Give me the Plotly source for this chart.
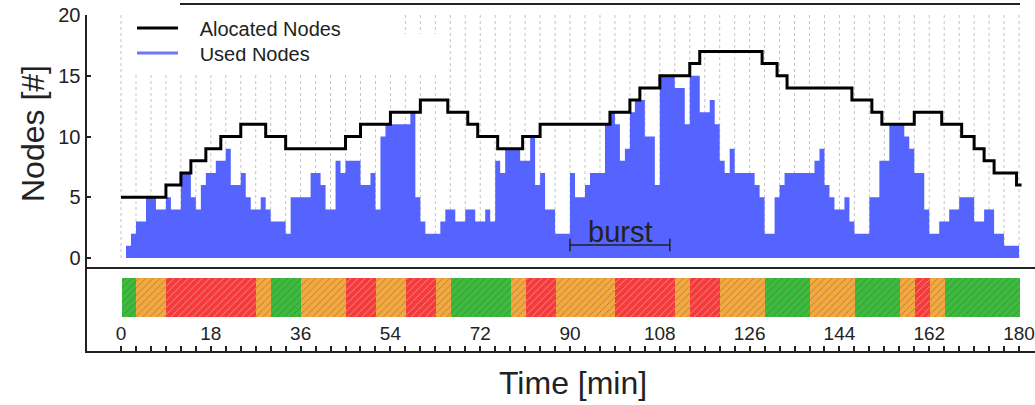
import plotly.graph_objects as go

# ---------------- data ----------------
# used nodes per minute (minute t covers [t, t+1))
used_nodes = [
    0, 1, 2, 3, 3, 5, 5, 4, 4, 5,        # 0-9
    4, 4, 7, 7, 5, 4, 6, 7, 7, 8,        # 10-19
    8, 9, 6, 6, 7, 5, 4, 4, 5, 4,        # 20-29
    3, 3, 3, 2, 5, 5, 5, 5, 7, 7,        # 30-39
    6, 4, 4, 8, 7, 8, 8, 8, 6, 6,        # 40-49
    7, 4, 10, 11, 11, 11, 11, 11, 12, 5, # 50-59
    3, 2, 2, 2, 3, 4, 4, 3, 3, 4,        # 60-69
    4, 3, 3, 4, 3, 8, 7, 9, 9, 9,        # 70-79
    8, 8, 10, 6, 7, 4, 4, 2, 2, 2,       # 80-89
    7, 5, 5, 6, 7, 7, 7, 11, 12, 11,     # 90-99
    8, 9, 12, 13, 13, 10, 10, 6, 15, 15, # 100-109
    15, 14, 14, 11, 15, 15, 12, 12, 13, 11,  # 110-119
    8, 7, 9, 7, 7, 7, 7, 6, 5, 2,        # 120-129
    2, 5, 6, 7, 7, 7, 7, 7, 7, 8,        # 130-139
    9, 6, 5, 4, 4, 5, 3, 2, 2, 2,        # 140-149
    5, 5, 8, 8, 11, 11, 11, 10, 9, 7,    # 150-159
    7, 4, 2, 2, 3, 3, 4, 4, 5, 5,        # 160-169
    5, 3, 3, 4, 4, 2, 2, 1, 1, 1,        # 170-179
]
used_minutes = list(range(0, len(used_nodes) + 1))

# allocated nodes: change times [min] and level from that time on
alloc_minutes = [0, 9, 12, 14, 17, 20, 24, 29, 33, 45, 48, 54, 60, 65.5, 69.5,
                 71.5, 75.5, 80.5, 84, 98, 102, 104, 108, 114, 116, 128.5,
                 131.5, 133.5, 146.5, 150.5, 152.5, 159, 164.5, 168.5, 171,
                 173, 175, 179.5, 180.5]
alloc_nodes = [5, 6, 7, 8, 9, 10, 11, 10, 9, 10, 11, 12, 13, 12, 11,
               10, 9, 10, 11, 12, 13, 14, 15, 16, 17, 16,
               15, 14, 13, 12, 11, 12, 11, 10, 9,
               8, 7, 6, 6]

# state band (bottom panel)
state_bounds = [0, 3, 9, 27, 30, 36, 45, 51, 57, 63, 66, 78, 81, 87, 99, 111,
                114, 120, 129, 138, 147, 156, 159, 162, 165, 180]
state_names = ["green", "orange", "red", "orange", "green", "orange", "red",
               "orange", "red", "orange", "green", "orange", "red", "orange",
               "red", "orange", "red", "orange", "green", "orange", "green",
               "orange", "red", "orange", "green"]
state_colors = {"green": "#3dbb3d", "orange": "#f4a840", "red": "#f43b3b"}

grid_minutes = list(range(0, 181, 3))
grid_top = 20
x_tick_vals = list(range(0, 181, 3))
x_tick_text = [str(v) if v % 18 == 0 else "" for v in x_tick_vals]
y_tick_vals = [0, 5, 10, 15, 20]

burst_span = [90, 110]
burst_level = 1.07

# ---------------- figure ----------------
W, H = 1035, 405
def px_x(p):
    return p / W
def px_y(p):
    return 1 - p / H

FONT = "Liberation Sans, Arial, sans-serif"
INK = "#222222"
BLUE = "#5564ff"
NB = "\u00a0"

fig = go.Figure()

# dotted vertical grid
gx, gy = [], []
for g in grid_minutes:
    gx += [g, g, None]
    gy += [0, grid_top, None]
fig.add_trace(go.Scatter(x=gx, y=gy, mode="lines", showlegend=False,
                         hoverinfo="skip",
                         line=dict(color="#c4c4c4", width=1, dash="dot"),
                         xaxis="x", yaxis="y"))

# used nodes (filled step)
fig.add_trace(go.Scatter(x=used_minutes, y=used_nodes + [used_nodes[-1]],
                         mode="lines", line_shape="hv", fill="tozeroy",
                         fillcolor=BLUE, line=dict(width=0, color=BLUE),
                         showlegend=False, xaxis="x", yaxis="y"))

# allocated nodes
fig.add_trace(go.Scatter(x=alloc_minutes, y=alloc_nodes, mode="lines",
                         line_shape="hv",
                         name=NB * 3 + "Alocated Nodes" + NB * 8,
                         legend="legend2",
                         line=dict(color="black", width=3),
                         xaxis="x", yaxis="y"))
# legend entry for used nodes
fig.add_trace(go.Scatter(x=[None], y=[None], mode="lines",
                         name=NB * 3 + "Used Nodes" + NB * 22,
                         legend="legend",
                         line=dict(color="#6a78ff", width=3),
                         xaxis="x", yaxis="y"))

# burst marker
fig.add_trace(go.Scatter(x=burst_span, y=[burst_level, burst_level],
                         mode="lines+markers", showlegend=False,
                         line=dict(color=INK, width=1.5),
                         marker=dict(symbol="line-ns", size=9,
                                     line=dict(color=INK, width=1.5)),
                         xaxis="x", yaxis="y"))

# state band
centers = [(a + b) / 2 for a, b in zip(state_bounds[:-1], state_bounds[1:])]
widths = [b - a for a, b in zip(state_bounds[:-1], state_bounds[1:])]
fig.add_trace(go.Bar(x=centers, y=[1] * len(centers), width=widths, base=0,
                     marker=dict(color=[state_colors[s] for s in state_names],
                                 line=dict(width=0),
                                 pattern=dict(shape="/", fgcolor="rgba(0,0,0,0.10)",
                                              size=5, solidity=0.15)),
                     showlegend=False, xaxis="x2", yaxis="y2"))

xr = [-6.92, 183.2]
legend_common = dict(xanchor="left", yanchor="middle", bgcolor="white",
                     borderwidth=0, itemwidth=41,
                     font=dict(size=20, family=FONT, color=INK))
fig.update_layout(
    width=W, height=H, margin=dict(l=0, r=0, t=0, b=0, autoexpand=False),
    plot_bgcolor="white", paper_bgcolor="white",
    font=dict(family=FONT, color=INK),
    bargap=0,
    xaxis=dict(domain=[px_x(86.5), 1], range=xr, anchor="y", automargin=False,
               showline=True, linecolor=INK, linewidth=2,
               showgrid=False, zeroline=False, showticklabels=False, ticks=""),
    yaxis=dict(domain=[px_y(267), px_y(15)], range=[-0.74, 20], anchor="x",
               automargin=False, ticklabeloverflow="allow",
               tickvals=y_tick_vals, ticks="inside", ticklen=4, tickwidth=1.5,
               tickcolor=INK, showline=True, linecolor=INK, linewidth=2,
               showgrid=False, zeroline=False,
               tickfont=dict(size=20, family=FONT, color=INK)),
    xaxis2=dict(domain=[px_x(86.5), 1], range=xr, anchor="y2",
                automargin=False,
                tickvals=x_tick_vals, ticktext=x_tick_text,
                ticks="inside", ticklen=5, tickwidth=1.5, tickcolor=INK,
                ticklabelposition="inside", ticklabelstandoff=3,
                ticklabeloverflow="allow",
                showline=True, linecolor=INK, linewidth=2,
                showgrid=False, zeroline=False,
                tickfont=dict(size=19, family=FONT, color=INK)),
    yaxis2=dict(domain=[px_y(351), px_y(267)], range=[-0.872, 1.282],
                anchor="x2", automargin=False,
                showline=True, linecolor=INK, linewidth=2,
                showgrid=False, zeroline=False, showticklabels=False,
                ticks=""),
    legend=dict(x=px_x(132), y=px_y(53), **legend_common),
    legend2=dict(x=px_x(132), y=px_y(28), **legend_common),
    annotations=[
        dict(text="Nodes [#]", x=px_x(33), y=px_y(134), xref="paper",
             yref="paper", xanchor="center", yanchor="middle",
             textangle=-90, showarrow=False,
             font=dict(size=32, family=FONT, color=INK)),
        dict(text="Time [min]", x=px_x(573), y=px_y(383), xref="paper",
             yref="paper", xanchor="center", yanchor="middle",
             showarrow=False,
             font=dict(size=32, family=FONT, color=INK)),
        dict(text="burst", x=sum(burst_span) / 2, y=burst_level, xref="x",
             yref="y", xanchor="center", yanchor="bottom", yshift=-5,
             showarrow=False,
             font=dict(size=29, family=FONT, color=INK)),
    ],
    shapes=[
        dict(type="line", xref="paper", yref="paper", x0=px_x(180),
             x1=px_x(1020), y0=px_y(4), y1=px_y(4),
             line=dict(color=INK, width=2), layer="above"),
    ],
)

# remove the browser's default 8px page margin so the figure fills the window
fig.write_html("out.html",
               config={"displayModeBar": False},
               post_script="document.body.style.margin='0';"
                           "document.body.style.overflow='hidden';")
